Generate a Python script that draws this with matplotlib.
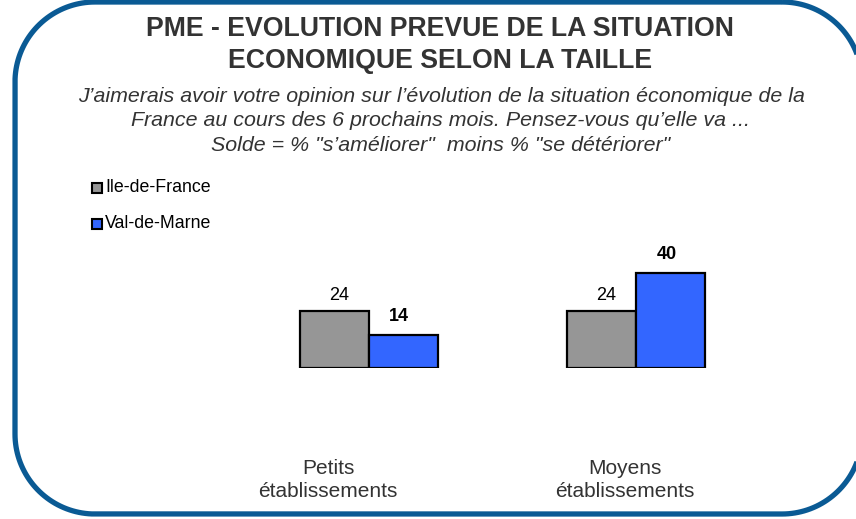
#!/usr/bin/env python3
"""PME - expected evolution of the economic situation, by establishment size."""

import matplotlib.pyplot as plt
from matplotlib.patches import PathPatch, Rectangle
from matplotlib.path import Path
import numpy as np

plt.rcParams["font.family"] = ["Liberation Sans", "DejaVu Sans"]

categories = ["Petits\nétablissements", "Moyens\nétablissements"]
series_names = ["Ile-de-France", "Val-de-Marne"]
idf_values = [24, 24]
vdm_values = [14, 40]

COLORS = {"Ile-de-France": "#969696", "Val-de-Marne": "#3366FF"}
BORDER = "#0A5A94"
TEXT = "#333333"

W, H = 856, 519
fig = plt.figure(figsize=(W / 100, H / 100), dpi=100)
fig.patch.set_facecolor("white")

# overlay in pixel units (origin top-left) for the frame, titles and legend
bg = fig.add_axes([0, 0, 1, 1])
bg.set_xlim(0, W)
bg.set_ylim(H, 0)
bg.axis("off")


def rounded_rect(x0, y0, x1, y1, r, n=40):
    pts = []
    corners = [(x1 - r, y0 + r, -90, 0), (x1 - r, y1 - r, 0, 90),
               (x0 + r, y1 - r, 90, 180), (x0 + r, y0 + r, 180, 270)]
    for cx, cy, a0, a1 in corners:
        t = np.radians(np.linspace(a0, a1, n))
        pts.extend(zip(cx + r * np.cos(t), cy + r * np.sin(t)))
    pts.append(pts[0])
    return Path(pts)


# rounded frame, partly running off the right edge
bg.add_patch(PathPatch(rounded_rect(15, 2, 862, 514, 80), facecolor="none",
                       edgecolor=BORDER, linewidth=3.8, clip_on=False))

bg.text(440, 45, "PME - EVOLUTION PREVUE DE LA SITUATION\nECONOMIQUE SELON LA TAILLE",
        ha="center", va="center", fontsize=19.2, fontweight="bold", color=TEXT,
        linespacing=1.25)
bg.text(441, 121,
        "J’aimerais avoir votre opinion sur l’évolution de la situation économique de la\n"
        "France au cours des 6 prochains mois. Pensez-vous qu’elle va ...\n"
        "Solde = % \"s’améliorer\"  moins % \"se détériorer\"",
        ha="center", va="center", fontsize=15.4, style="italic", color=TEXT,
        linespacing=1.37)

# legend drawn by hand as small framed squares
for i, name in enumerate(series_names):
    y = 188 + 36 * i
    bg.add_patch(Rectangle((92, y - 5), 10, 10, facecolor=COLORS[name],
                           edgecolor="black", linewidth=1.5))
    bg.text(105, y, name, ha="left", va="center", fontsize=12.8, color="black")

# bar axes: baseline at y=368 px, 2.375 px per unit
ax_left, ax_right = 200, 800
ax = fig.add_axes([ax_left / W, (H - 368) / H, (ax_right - ax_left) / W, 50 * 2.375 / H])
ax.set_ylim(0, 50)
unit = 267.0
ax.set_xlim((ax_left - 369) / unit, (ax_right - 369) / unit)
ax.axis("off")

x = np.arange(len(categories))
bw = 69 / unit
ax.bar(x - bw / 2, idf_values, bw, color=COLORS["Ile-de-France"], edgecolor="black", linewidth=1.6)
ax.bar(x + bw / 2, vdm_values, bw, color=COLORS["Val-de-Marne"], edgecolor="black", linewidth=1.6)

for xi, v in zip(x, idf_values):
    ax.annotate(f"{v}", (xi - bw / 2, v), xytext=(3, 5), textcoords="offset points",
                ha="center", va="bottom", fontsize=13, color="black")
for xi, v in zip(x, vdm_values):
    ax.annotate(f"{v}", (xi + bw / 2, v), xytext=(-3, 7), textcoords="offset points",
                ha="center", va="bottom", fontsize=13, fontweight="bold", color="black")

label_shift = [-41, -11]
for xi, lab, dx in zip(x, categories, label_shift):
    bg.text(369 + unit * xi + dx, 480, lab, ha="center", va="center",
            fontsize=15, color=TEXT, linespacing=1.28)

fig.savefig("out.png", dpi=100)
